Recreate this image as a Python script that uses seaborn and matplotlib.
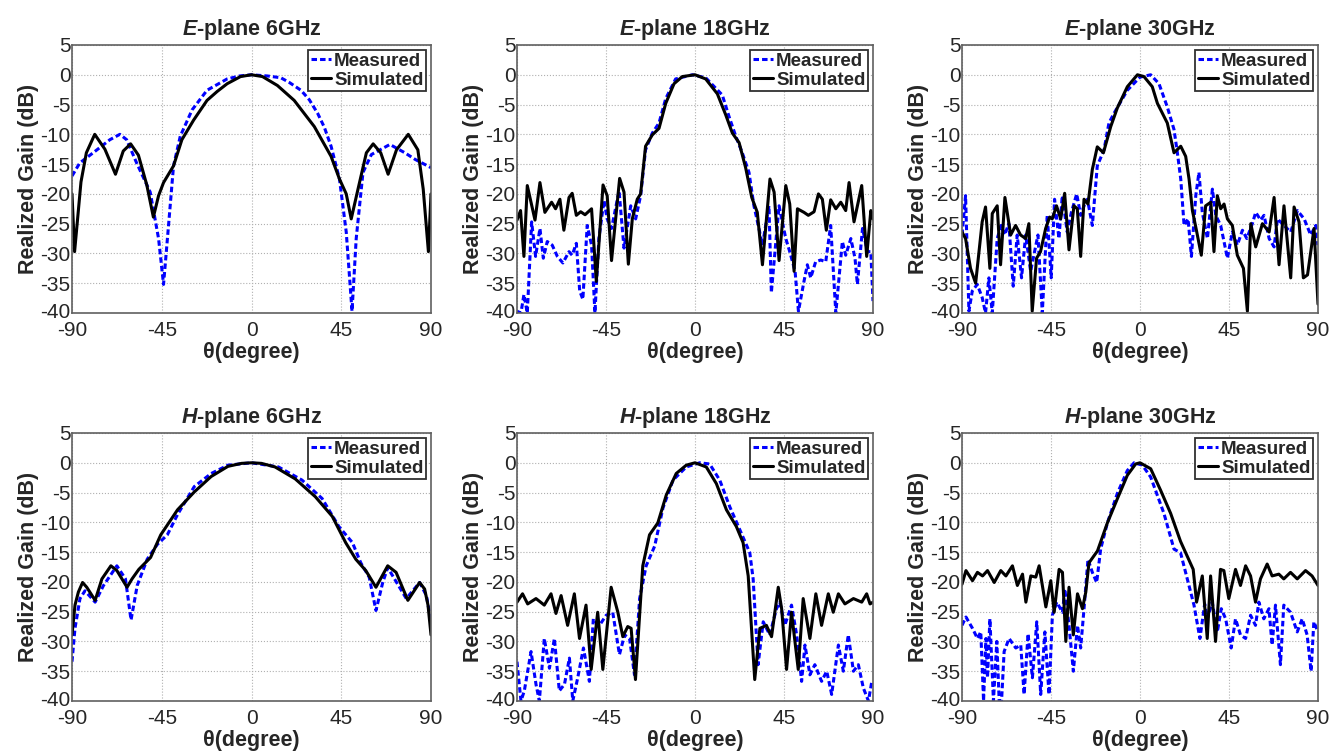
import matplotlib
matplotlib.use("Agg")
import matplotlib.pyplot as plt
import matplotlib.transforms as mtransforms
import seaborn as sns

## Data (theta in degrees, gain in dB)

# E-plane 6 GHz
e6_sim_theta = [-90, -88.7, -85.5, -82.8, -78.6, -73.5, -68.2, -64.3, -60.6, -56.7, -52.5, -49.2,
                -46.6, -44.1, -39.1, -34.9, -29.0, -22.3, -17.2, -12.2, -5.5, 0, 5.5, 13.0, 21.4,
                31.5, 39.9, 44.1, 47.5, 50.0, 53.4, 57.6, 61.0, 64.8, 68.5, 72.7, 78.6, 83.4,
                86.1, 88.7, 90]
e6_sim_gain = [-20.0, -29.7, -18.0, -13.1, -10.0, -12.5, -16.7, -12.8, -11.6, -13.5, -18.5, -23.9,
               -20.3, -18.1, -15.3, -10.9, -7.6, -4.3, -2.8, -1.5, -0.3, 0, -0.3, -1.8, -4.3,
               -8.7, -13.7, -17.5, -20.0, -24.2, -19.2, -13.1, -11.6, -13.1, -16.7, -12.6, -10.0,
               -12.6, -19.2, -29.7, -20.0]
e6_meas_theta = [-90, -86.1, -79.4, -71.0, -66.0, -62.6, -57.6, -50.8, -46.6, -44.1, -41.6, -39.1,
                 -35.7, -29.8, -22.3, -12.2, -6.0, 0, 8.0, 14.7, 19.0, 24.8, 29.0, 33.2, 36.5,
                 39.9, 44.1, 47.5, 50.4, 52.5, 55.9, 60.1, 69.4, 76.9, 82.0, 90]
e6_meas_gain = [-17.0, -14.8, -13.1, -10.9, -10.0, -10.9, -14.8, -19.7, -27.5, -35.2, -25.3, -15.3,
                -10.3, -5.9, -2.6, -0.7, -0.2, 0, -0.2, -0.5, -1.3, -2.6, -4.2, -6.5, -8.8,
                -12.0, -17.5, -26.4, -39.7, -27.5, -16.4, -13.4, -11.7, -13.1, -14.2, -15.6]

# E-plane 18 GHz
e18_sim_theta = [-90, -88.2, -86.5, -84.8, -80.9, -78.4, -75.9, -72.5, -70.5, -68.3, -66.3, -63.7,
                 -62.1, -60.0, -57.8, -55.6, -52.3, -49.9, -46.5, -44.4, -42.2, -38.1, -35.9,
                 -33.7, -31.7, -29.2, -27.5, -25.0, -21.6, -18.2, -14.8, -10.6, -6.4, 0, 5.4,
                 11.3, 15.5, 18.9, 22.3, 25.6, 28.7, 31.5, 34.1, 37.9, 40.0, 42.5, 45.9, 47.9,
                 50.1, 51.8, 55.1, 57.3, 60.2, 62.4, 64.4, 66.4, 68.6, 71.2, 73.7, 76.2, 77.9,
                 80.4, 84.3, 86.8, 88.9, 90]
e18_sim_gain = [-24.4, -22.8, -30.5, -18.6, -24.4, -18.1, -23.1, -21.4, -22.5, -20.9, -26.1, -20.6,
                -19.9, -23.6, -23.0, -23.5, -22.5, -34.7, -18.5, -20.3, -31.2, -17.4, -19.7,
                -31.8, -24.2, -20.9, -20.0, -12.0, -10.1, -9.0, -4.8, -1.5, -0.3, 0, -0.7,
                -3.2, -6.7, -9.8, -11.4, -15.6, -20.6, -23.1, -31.9, -17.5, -19.7, -31.2, -18.6,
                -21.7, -33.0, -22.5, -23.1, -23.6, -23.0, -20.0, -20.9, -26.1, -21.0, -22.5,
                -21.4, -22.8, -18.1, -24.7, -18.6, -30.5, -22.8, -24.2]
e18_meas_theta = [-90, -88.0, -86.5, -84.8, -82.6, -80.6, -78.4, -76.7, -74.7, -72.2, -69.6, -66.8,
                  -63.7, -62.1, -60.0, -58.3, -56.7, -54.5, -52.3, -50.6, -48.6, -46.0, -44.4,
                  -42.2, -38.4, -35.9, -32.5, -30.0, -27.5, -25.0, -21.6, -18.2, -14.8, -9.8,
                  -1.3, 5.4, 13.8, 17.2, 20.6, 23.9, 27.3, 29.8, 32.0, 34.1, 37.4, 38.6, 42.5,
                  45.9, 47.9, 50.6, 52.3, 55.1, 56.8, 58.5, 61.0, 63.6, 66.1, 68.6, 71.2, 74.5,
                  76.2, 78.8, 80.9, 82.1, 84.7, 87.2, 88.9, 90]
e18_meas_gain = [-39.7, -40.0, -36.9, -40.0, -24.7, -30.5, -25.8, -30.8, -28.0, -28.6, -30.5, -31.6,
                 -29.7, -30.3, -28.3, -36.3, -37.7, -25.3, -28.6, -40.0, -27.5, -21.1, -24.2,
                 -25.8, -19.5, -29.1, -22.0, -24.2, -20.3, -12.6, -9.8, -8.1, -4.0, -0.7,
                 0, -0.5, -3.4, -7.0, -10.3, -13.1, -16.4, -22.0, -25.3, -28.6, -22.0, -36.6, -22.0,
                 -27.5, -29.7, -33.0, -39.7, -34.7, -31.9, -34.1, -31.4, -31.1, -31.4, -25.3,
                 -40.0, -28.0, -30.3, -27.5, -30.8, -35.2, -25.8, -29.7, -29.7, -38.0]

# E-plane 30 GHz
e30_sim_theta = [-90, -88.2, -85.7, -83.1, -79.8, -78.1, -75.9, -74.7, -72.2, -70.5, -68.3, -65.4,
                 -62.9, -60.4, -57.8, -56.2, -54.5, -52.3, -50.3, -47.7, -45.7, -44.4, -42.2,
                 -40.1, -38.1, -35.9, -33.4, -31.7, -30.0, -28.3, -26.3, -24.1, -21.6, -18.5,
                 -14.8, -11.5, -6.4, -1.3, 2.0, 6.2, 8.8, 13.8, 17.2, 20.6, 23.1, 24.8, 26.5,
                 28.7, 31.0, 33.2, 35.8, 37.4, 39.1, 40.8, 42.5, 44.2, 46.7, 49.2, 52.3, 54.3,
                 56.0, 58.5, 61.9, 65.3, 67.8, 70.3, 72.8, 76.2, 77.9, 80.4, 82.6, 84.7, 88.0, 90]
e30_sim_gain = [-26.4, -27.5, -32.5, -35.0, -24.7, -22.2, -32.5, -23.3, -22.0, -31.9, -20.6, -26.9,
                -25.3, -26.9, -27.5, -25.0, -39.7, -30.8, -29.7, -25.8, -23.9, -24.2, -22.0,
                -24.2, -19.9, -29.4, -22.0, -22.5, -30.5, -20.9, -21.7, -15.9, -12.1, -13.1,
                -8.7, -5.6, -2.0, 0, -0.3, -2.0, -4.8, -8.1, -13.1, -12.0, -13.7, -17.5, -22.8,
                -26.4, -30.3, -22.0, -21.4, -29.7, -20.3, -22.5, -21.7, -24.2, -25.3, -30.3,
                -32.5, -39.7, -25.0, -28.9, -25.0, -26.4, -20.6, -31.9, -22.0, -34.1, -22.2,
                -24.7, -34.1, -33.6, -25.8, -38.5]
e30_meas_theta = [-90, -88.2, -86.5, -84.8, -82.3, -79.8, -78.1, -76.4, -74.7, -72.2, -70.2, -68.5,
                  -66.3, -64.1, -62.1, -59.9, -57.8, -55.3, -53.3, -51.6, -49.4, -46.9, -44.9,
                  -43.2, -41.0, -39.3, -36.8, -34.7, -32.0, -30.0, -28.3, -26.6, -24.1, -21.6,
                  -18.2, -15.7, -13.2, -6.4, 0, 5.4, 9.6, 13.8, 17.2, 18.9, 20.6, 22.3, 24.3,
                  26.0, 28.2, 29.8, 31.5, 34.1, 36.6, 38.3, 40.8, 44.2, 46.7, 49.2, 51.8, 54.0,
                  56.8, 58.5, 61.0, 62.7, 65.3, 67.8, 69.5, 72.8, 76.2, 79.6, 83.0, 86.3, 88.9, 90]
e30_meas_gain = [-26.9, -20.3, -39.7, -36.3, -35.2, -37.4, -40.0, -34.1, -40.0, -27.5, -25.3, -26.9,
                 -25.0, -35.5, -26.9, -34.1, -26.9, -33.0, -29.7, -26.9, -40.0, -23.6, -34.1,
                 -20.9, -27.5, -20.3, -26.4, -23.1, -20.0, -23.6, -22.0, -20.9, -25.3, -15.3,
                 -12.6, -8.1, -6.5, -2.6, -0.4, 0, -1.5, -5.4, -9.2, -13.1, -17.5, -25.3, -24.2,
                 -30.5, -20.3, -16.4, -23.1, -27.5, -19.2, -23.6, -25.3, -30.8, -26.4, -28.6,
                 -26.1, -27.5, -25.0, -23.1, -24.4, -23.6, -27.5, -28.9, -24.2, -25.3, -26.4,
                 -22.8, -24.2, -26.9, -25.3, -28.6]

# H-plane 6 GHz
h6_sim_theta = [-90, -88.5, -86.8, -84.7, -82.6, -78.4, -75.0, -70.5, -67.5, -62.4, -59.9, -56.5,
                -50.6, -45.5, -37.1, -28.7, -20.2, -11.8, -5.0, 0, 5.0, 11.8, 21.9, 32.0, 40.5,
                47.2, 52.3, 57.3, 62.4, 68.3, 72.5, 78.4, 84.3, 86.8, 88.5, 90]
h6_sim_gain = [-28.9, -23.9, -21.7, -20.1, -20.9, -23.1, -19.5, -17.3, -18.1, -20.9, -19.5, -17.9,
               -15.9, -12.1, -7.9, -4.9, -2.3, -0.6, -0.1, 0, -0.1, -0.7, -2.7, -5.7, -9.0,
               -13.4, -16.2, -18.1, -20.9, -17.3, -18.4, -23.1, -20.1, -21.2, -23.9, -28.9]
h6_meas_theta = [-90, -88.5, -86.0, -83.5, -78.4, -74.2, -67.5, -63.2, -60.4, -57.3, -52.3, -47.2,
                 -42.2, -37.1, -28.7, -20.2, -11.8, 0, 13.5, 25.3, 35.4, 43.8, 50.6, 54.8, 59.0,
                 62.4, 65.8, 68.3, 71.7, 77.6, 84.3, 87.7, 90]
h6_meas_gain = [-33.4, -27.8, -22.8, -21.5, -23.4, -20.6, -17.3, -19.5, -26.4, -20.6, -16.2, -13.7,
                -12.1, -8.7, -4.0, -1.8, -0.4, 0, -0.7, -2.9, -6.0, -10.7, -13.4, -16.8, -19.2,
                -24.8, -20.1, -17.6, -19.5, -22.8, -20.1, -22.3, -26.7]

# H-plane 18 GHz
h18_sim_theta = [-90, -87.2, -84.6, -80.4, -76.2, -72.8, -70.3, -67.7, -64.4, -61.0, -58.4, -55.1,
                 -52.5, -49.2, -46.6, -42.4, -39.0, -36.5, -34.0, -32.3, -30.1, -26.4, -23.0,
                 -18.8, -14.5, -9.5, -4.4, 0, 5.7, 10.8, 15.9, 20.9, 24.3, 26.9, 30.2, 32.8,
                 36.1, 38.7, 42.1, 43.8, 46.3, 48.8, 52.2, 54.7, 58.1, 61.1, 64.0, 67.4, 69.9,
                 72.5, 75.8, 80.1, 84.3, 86.8, 88.5, 90]
h18_sim_gain = [-23.4, -22.0, -23.7, -22.8, -23.9, -22.0, -25.3, -22.3, -27.3, -22.0, -29.5, -23.9,
                -34.7, -25.1, -34.7, -20.9, -25.1, -29.2, -27.5, -27.8, -36.4, -17.3, -12.1,
                -10.1, -5.4, -1.8, -0.4, 0, -0.7, -3.5, -7.9, -10.7, -13.4, -19.0, -36.4, -27.8,
                -27.3, -29.2, -20.9, -24.5, -34.7, -25.1, -34.7, -22.8, -29.5, -22.0, -27.3,
                -22.0, -25.1, -22.0, -23.7, -22.8, -23.4, -22.0, -23.7, -23.4]
h18_meas_theta = [-90, -88.0, -86.3, -82.9, -80.4, -78.7, -76.2, -73.6, -71.1, -68.6, -66.0, -63.5,
                  -61.8, -59.3, -56.4, -53.4, -51.4, -48.3, -44.9, -41.6, -38.2, -35.6, -33.1,
                  -30.6, -28.0, -24.7, -20.4, -16.2, -11.1, -4.4, 2.4, 7.4, 12.5, 17.6, 22.6,
                  27.7, 29.4, 31.9, 34.5, 37.8, 41.2, 42.9, 45.4, 48.8, 51.4, 53.9, 55.6, 58.1,
                  60.6, 64.0, 66.6, 69.1, 72.5, 75.0, 77.5, 80.1, 82.6, 85.1, 87.7, 89.4, 90]
h18_meas_gain = [-33.4, -40.0, -38.3, -31.7, -37.2, -40.0, -29.5, -34.5, -29.5, -38.3, -37.2, -32.8,
                 -40.0, -36.1, -31.1, -36.7, -26.2, -27.3, -25.6, -25.1, -32.2, -28.9, -29.5,
                 -35.6, -22.8, -17.3, -14.0, -7.6, -2.9, -0.7, 0, -0.2, -2.9, -7.4, -11.2,
                 -15.1, -19.5, -33.9, -26.7, -28.9, -24.5, -23.4, -27.3, -23.9, -28.9, -36.7,
                 -30.6, -35.6, -33.9, -36.7, -35.0, -38.9, -30.6, -35.0, -28.9, -35.0, -33.9,
                 -37.8, -40.0, -36.7, -36.7]

# H-plane 30 GHz
h30_sim_theta = [-90, -88.0, -84.7, -82.2, -79.6, -77.1, -73.7, -70.4, -67.8, -64.5, -62.0, -59.4,
                 -57.7, -55.2, -52.7, -51.0, -47.6, -45.1, -43.4, -40.9, -39.2, -37.5, -35.9,
                 -33.7, -31.6, -29.1, -27.4, -25.8, -21.5, -16.5, -11.4, -6.4, -2.2, 0, 5.4,
                 10.4, 15.5, 20.5, 23.9, 26.9, 28.6, 31.5, 34.0, 35.7, 38.2, 40.7, 42.4, 44.9,
                 48.3, 50.8, 53.4, 55.9, 58.4, 60.9, 64.3, 66.8, 70.2, 72.7, 76.1, 79.5, 83.7,
                 87.0, 90]
h30_sim_gain = [-20.4, -18.1, -19.8, -18.4, -19.0, -18.1, -20.1, -18.1, -19.0, -17.3, -20.6, -18.7,
                -23.4, -19.0, -19.2, -17.3, -24.2, -19.8, -25.1, -17.9, -18.4, -30.0, -20.9,
                -28.9, -22.0, -24.5, -21.7, -16.8, -14.8, -10.1, -6.0, -2.1, -0.2, 0, -1.0,
                -4.6, -8.5, -13.2, -15.7, -17.9, -23.4, -19.0, -29.5, -19.0, -30.0, -17.9, -18.1,
                -22.8, -17.9, -20.6, -17.3, -19.0, -23.4, -19.5, -17.0, -19.0, -18.7, -19.5,
                -18.4, -19.5, -18.1, -19.0, -20.6]
h30_meas_theta = [-90, -88.0, -84.7, -82.2, -80.5, -79.1, -77.9, -77.1, -75.9, -74.1, -72.4, -71.2,
                  -70.0, -68.7, -66.2, -62.8, -60.3, -58.6, -56.6, -54.4, -52.2, -50.2, -48.1,
                  -46.0, -44.3, -42.1, -39.2, -38.0, -35.9, -33.7, -31.6, -30.0, -28.3, -26.3,
                  -24.1, -21.9, -19.9, -16.5, -11.4, -6.4, -3.0, 1.2, 5.4, 12.1, 17.2, 20.5, 23.9,
                  27.3, 30.3, 32.7, 34.0, 36.5, 39.1, 41.1, 43.3, 46.1, 48.3, 50.8, 53.4, 55.9,
                  58.4, 60.1, 62.6, 65.2, 66.8, 68.5, 71.0, 72.7, 76.1, 79.5, 82.0, 84.5, 86.5,
                  87.9, 90]
h30_meas_gain = [-27.3, -25.9, -27.8, -29.5, -28.4, -40.0, -29.5, -36.1, -26.2, -40.0, -30.0, -40.0,
                 -40.0, -31.7, -29.5, -31.1, -30.6, -38.9, -28.7, -36.1, -26.7, -38.9, -28.4,
                 -38.9, -25.6, -23.4, -25.1, -21.2, -27.3, -35.0, -27.3, -31.1, -24.5, -16.2,
                 -18.4, -20.1, -14.5, -10.1, -5.1, -1.3, 0, -0.4, -2.4, -8.5, -14.5, -15.1, -19.5,
                 -23.9, -29.5, -23.7, -26.2, -23.4, -28.4, -24.5, -26.2, -31.1, -26.2, -28.9,
                 -29.5, -25.6, -27.3, -23.4, -26.2, -24.5, -30.6, -23.9, -33.9, -23.9, -25.1,
                 -28.4, -26.2, -28.9, -35.0, -26.7, -28.4]

titles = [r"$\mathbfit{E}$-plane 6GHz", r"$\mathbfit{E}$-plane 18GHz", r"$\mathbfit{E}$-plane 30GHz",
          r"$\mathbfit{H}$-plane 6GHz", r"$\mathbfit{H}$-plane 18GHz", r"$\mathbfit{H}$-plane 30GHz"]
panels = [
    (e6_meas_theta, e6_meas_gain, e6_sim_theta, e6_sim_gain),
    (e18_meas_theta, e18_meas_gain, e18_sim_theta, e18_sim_gain),
    (e30_meas_theta, e30_meas_gain, e30_sim_theta, e30_sim_gain),
    (h6_meas_theta, h6_meas_gain, h6_sim_theta, h6_sim_gain),
    (h18_meas_theta, h18_meas_gain, h18_sim_theta, h18_sim_gain),
    (h30_meas_theta, h30_meas_gain, h30_sim_theta, h30_sim_gain),
]

## Style
sns.set_style("white")
plt.rcParams["font.family"] = ["Liberation Sans", "DejaVu Sans"]
plt.rcParams["axes.unicode_minus"] = False
plt.rcParams["mathtext.fontset"] = "custom"
plt.rcParams["mathtext.rm"] = "Liberation Sans"
plt.rcParams["mathtext.bfit"] = "Liberation Sans:italic:bold"

W, H = 1342, 754
fig = plt.figure(figsize=(W / 100, H / 100), dpi=100)

# axes boxes in pixels: left, right, top, bottom
cols = [(72, 431), (517, 873), (962, 1318)]
rows = [(45, 313), (433, 701)]

# small upward nudge for the bottom y tick label so it clears the -90 label
nudge = mtransforms.ScaledTranslation(0, 3 / 100, fig.dpi_scale_trans)

for i, (mt, mg, st, sg) in enumerate(panels):
    l, r = cols[i % 3]
    t, b = rows[i // 3]
    ax = fig.add_axes([l / W, 1 - b / H, (r - l) / W, (b - t) / H])

    sns.lineplot(x=mt, y=mg, ax=ax, color="#0000ff", linewidth=2.2, sort=False,
                 linestyle=(0, (1.8, 1.0)), label="Measured")
    sns.lineplot(x=st, y=sg, ax=ax, color="black", linewidth=2.2, sort=False,
                 label="Simulated")

    ax.set_xlim(-90, 90)
    ax.set_ylim(-40, 5)
    ax.set_xticks([-90, -45, 0, 45, 90])
    ax.set_yticks(range(-40, 6, 5))
    ax.grid(True, linestyle=":", color="#b0b0b0", linewidth=0.8)
    ax.tick_params(direction="in", length=4, labelsize=15, color="#555555")
    ax.tick_params(axis="x", pad=6)
    ax.tick_params(axis="y", pad=1)
    for s in ax.spines.values():
        s.set_color("#606060")
        s.set_linewidth(1.2)
    low = ax.get_yticklabels()[0]
    low.set_transform(low.get_transform() + nudge)

    ax.set_title(titles[i], fontsize=15.5, fontweight="bold", pad=7)
    ax.set_xlabel("θ(degree)", fontsize=15.5, fontweight="bold", labelpad=1)
    ax.set_ylabel("Realized Gain (dB)", fontsize=15.5, fontweight="bold", labelpad=1)

    leg = ax.legend(loc="upper right", prop={"weight": "bold", "size": 13.5},
                    frameon=True, fancybox=False, edgecolor="#303030", framealpha=1,
                    handlelength=1.1, handletextpad=0.15, borderpad=0.15,
                    labelspacing=0.1, borderaxespad=0.25)
    leg.get_frame().set_linewidth(1.3)

fig.savefig("out.png", dpi=100)
